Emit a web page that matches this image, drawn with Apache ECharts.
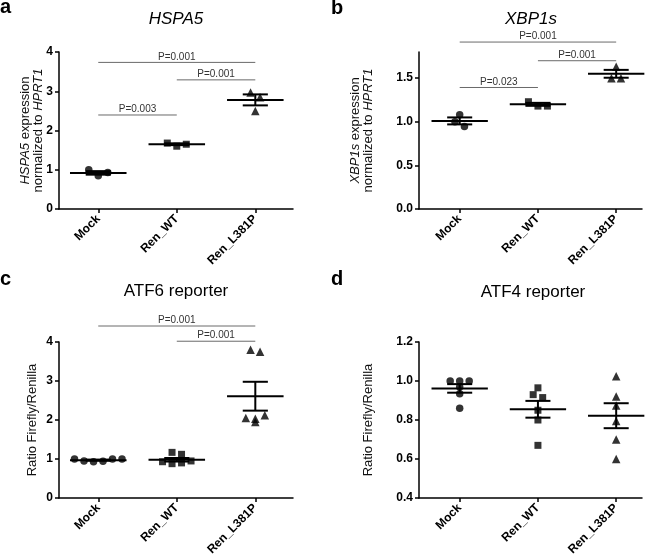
<!DOCTYPE html>
<html><head><meta charset="utf-8">
<script src="https://cdn.jsdelivr.net/npm/echarts@6/dist/echarts.min.js"></script>
<style>html,body{margin:0;padding:0;background:#fff}#c{width:656px;height:559px}</style>
</head><body><div id="c"></div>
<script>
const categories = ['Mock', 'Ren_WT', 'Ren_L381P'];

// a: HSPA5
const hspa5Mock = [1.0, 0.85, 0.93];
const hspa5WT = [1.68, 1.60, 1.65];
const hspa5L381P = [2.97, 2.85, 2.50];
const hspa5Mean = [0.92, 1.65, 2.78];
const hspa5Sem = [0.045, 0.023, 0.14];
const hspa5Ticks = [0, 1, 2, 3, 4];
const hspa5PLabels = ['P=0.001', 'P=0.001', 'P=0.003'];
const hspa5PPairs = [[0, 2], [1, 2], [0, 1]];
const hspa5PLevels = [3.735, 3.29, 2.395];

// b: XBP1s
const xbp1Mock = [1.08, 1.0, 0.945];
const xbp1WT = [1.23, 1.18, 1.18];
const xbp1L381P = [1.50, 1.63, 1.50];
const xbp1Mean = [1.01, 1.20, 1.55];
const xbp1Sem = [0.04, 0.017, 0.045];
const xbp1Ticks = [0, 0.5, 1.0, 1.5];
const xbp1PLabels = ['P=0.001', 'P=0.001', 'P=0.023'];
const xbp1PPairs = [[0, 2], [1, 2], [0, 1]];
const xbp1PLevels = [1.914, 1.70, 1.393];

// c: ATF6 reporter
const atf6Mock = [1.0, 0.95, 0.93, 0.94, 1.0, 1.0];
const atf6WT = [0.93, 1.17, 0.88, 1.12, 0.90, 0.95];
const atf6L381P = [2.05, 3.8, 1.95, 3.75, 2.03, 2.12];
const atf6Mean = [0.97, 0.98, 2.61];
const atf6Sem = [0.015, 0.045, 0.37];
const atf6Ticks = [0, 1, 2, 3, 4];
const atf6PLabels = ['P=0.001', 'P=0.001'];
const atf6PPairs = [[0, 2], [1, 2]];
const atf6PLevels = [4.41, 4.02];

// d: ATF4 reporter
const atf4Mock = [1.0, 1.0, 1.0, 0.969, 0.935, 0.86];
const atf4WT = [0.965, 0.93, 0.915, 0.85, 0.80, 0.67];
const atf4L381P = [1.025, 0.92, 0.875, 0.795, 0.70, 0.60];
const atf4Mean = [0.962, 0.855, 0.822];
const atf4Sem = [0.022, 0.043, 0.064];
const atf4Ticks = [0.4, 0.6, 0.8, 1.0, 1.2];

const FONT = '"Liberation Sans", Arial, Helvetica, sans-serif';
const SYMBOLS = [['circle', 7.5], ['rect', 7], ['triangle', 8.5]];

const panels = [
  { groups: [hspa5Mock, hspa5WT, hspa5L381P], mean: hspa5Mean, sem: hspa5Sem, ticks: hspa5Ticks, ymax: 4, dec: 0,
    pl: hspa5PLabels, pp: hspa5PPairs, pv: hspa5PLevels,
    grid: { left: 59, top: 52, width: 234, height: 157 }, xmin: -0.5, xmax: 2.48,
    name: '{i|HSPA5} expression\nnormalized to {i|HPRT1}', nameGap: 14 },
  { groups: [xbp1Mock, xbp1WT, xbp1L381P], mean: xbp1Mean, sem: xbp1Sem, ticks: xbp1Ticks, ymax: 1.8, dec: 1,
    pl: xbp1PLabels, pp: xbp1PPairs, pv: xbp1PLevels,
    grid: { left: 419, top: 52, width: 223, height: 157 }, xmin: -0.52, xmax: 2.33,
    name: '{i|XBP1s} expression\nnormalized to {i|HPRT1}', nameGap: 44 },
  { groups: [atf6Mock, atf6WT, atf6L381P], mean: atf6Mean, sem: atf6Sem, ticks: atf6Ticks, ymax: 4, dec: 0,
    pl: atf6PLabels, pp: atf6PPairs, pv: atf6PLevels,
    grid: { left: 59, top: 342, width: 234, height: 156 }, xmin: -0.5, xmax: 2.48,
    name: 'Ratio Firefly/Renilla', nameGap: 20 },
  { groups: [atf4Mock, atf4WT, atf4L381P], mean: atf4Mean, sem: atf4Sem, ticks: atf4Ticks, ymax: 1.2, dec: 1,
    pl: [], pp: [], pv: [],
    grid: { left: 419, top: 342, width: 223, height: 156 }, xmin: -0.52, xmax: 2.33,
    name: 'Ratio Firefly/Renilla', nameGap: 44 }
];

// simple beeswarm: points close in y share a row and are spread horizontally (pixel offsets)
function swarm(values, pxPerY, R, S) {
  const idx = values.map((v, i) => i).sort((a, b) => values[b] - values[a]);
  const rows = []; let cur = null;
  idx.forEach(i => {
    if (cur && (values[cur.top] - values[i]) * pxPerY <= R) cur.members.push(i);
    else { cur = { top: i, members: [i] }; rows.push(cur); }
  });
  const offs = new Array(values.length).fill(0);
  rows.forEach(r => {
    r.members.sort((a, b) => a - b);
    const n = r.members.length;
    r.members.forEach((m, k) => { offs[m] = (k - (n - 1) / 2) * S; });
  });
  return offs;
}

function meanSemRender(params, api) {
  const x = api.value(0), m = api.value(1), s = api.value(2);
  const pm = api.coord([x, m]);
  const pL = api.coord([x - 0.36, m]), pR = api.coord([x + 0.36, m]);
  const pu = api.coord([x, m + s]), pd = api.coord([x, m - s]);
  const cw = api.coord([x + 0.16, m])[0] - pm[0];
  const st = { stroke: '#000', lineWidth: 2 };
  return { type: 'group', children: [
    { type: 'line', shape: { x1: pL[0], y1: pm[1], x2: pR[0], y2: pm[1] }, style: st },
    { type: 'line', shape: { x1: pm[0], y1: pu[1], x2: pm[0], y2: pd[1] }, style: st },
    { type: 'line', shape: { x1: pm[0] - cw, y1: pu[1], x2: pm[0] + cw, y2: pu[1] }, style: st },
    { type: 'line', shape: { x1: pm[0] - cw, y1: pd[1], x2: pm[0] + cw, y2: pd[1] }, style: st }
  ] };
}

function bracketRender(labels) {
  return function (params, api) {
    const y = api.value(2);
    const a = api.coord([api.value(0), y]), b = api.coord([api.value(1), y]);
    return { type: 'group', children: [
      { type: 'line', shape: { x1: a[0], y1: a[1], x2: b[0], y2: b[1] }, style: { stroke: '#6a6a6a', lineWidth: 1 } },
      { type: 'text', x: (a[0] + b[0]) / 2, y: a[1] - 0.5,
        style: { text: labels[params.dataIndex], font: '10px ' + FONT, fill: '#333', align: 'center', verticalAlign: 'bottom' } }
    ] };
  };
}

const grids = [], xAxes = [], yAxes = [], series = [];
const axisLineStyle = { color: '#000', width: 1.5 };
panels.forEach((p, i) => {
  grids.push(Object.assign({ containLabel: false, outerBoundsMode: 'none' }, p.grid));
  const ymin = p.ticks[0];
  xAxes.push({
    gridIndex: i, type: 'value', min: p.xmin, max: p.xmax,
    axisLine: { show: true, onZero: false, lineStyle: axisLineStyle },
    axisTick: { show: true, customValues: [0, 1, 2], length: 4, lineStyle: axisLineStyle },
    axisLabel: { customValues: [0, 1, 2], rotate: 45, margin: 8, formatter: v => categories[Math.round(v)] || '',
      fontFamily: FONT, fontWeight: 'bold', fontSize: 12, color: '#000' },
    splitLine: { show: false }
  });
  yAxes.push({
    gridIndex: i, type: 'value', min: ymin, max: p.ymax,
    axisLine: { show: true, onZero: false, lineStyle: axisLineStyle },
    axisTick: { show: true, customValues: p.ticks, length: 4, lineStyle: axisLineStyle },
    axisLabel: { customValues: p.ticks, margin: 6, formatter: v => Number(v).toFixed(p.dec),
      fontFamily: FONT, fontWeight: 'bold', fontSize: 12, color: '#000' },
    splitLine: { show: false },
    name: p.name, nameLocation: 'middle', nameGap: p.nameGap, nameMoveOverlap: false,
    nameTextStyle: { fontFamily: FONT, fontSize: 13, color: '#111', lineHeight: 13,
      rich: { i: { fontFamily: FONT, fontSize: 13, fontStyle: 'italic', color: '#111', lineHeight: 13 } } }
  });
  const pxPerY = p.grid.height / (p.ymax - ymin);
  const pxPerX = p.grid.width / (p.xmax - p.xmin);
  p.groups.forEach((vals, g) => {
    const offs = swarm(vals, pxPerY, 6, 9.5);
    series.push({
      type: 'scatter', xAxisIndex: i, yAxisIndex: i,
      symbol: SYMBOLS[g][0], symbolSize: SYMBOLS[g][1],
      itemStyle: { color: '#000' },
      data: vals.map((v, k) => [g + offs[k] / pxPerX, v]), z: 3
    });
  });
  series.push({
    type: 'custom', xAxisIndex: i, yAxisIndex: i, renderItem: meanSemRender, clip: false,
    encode: { x: 0, y: 1 }, z: 4,
    data: p.mean.map((m, g) => [g, m, p.sem[g]])
  });
  if (p.pl.length) {
    series.push({
      type: 'custom', xAxisIndex: i, yAxisIndex: i, renderItem: bracketRender(p.pl), clip: false,
      encode: { x: [0, 1], y: 2 }, z: 2,
      data: p.pp.map((pr, k) => [pr[0], pr[1], p.pv[k]])
    });
  }
});

const txt = (t, x, y, font) => ({ type: 'text', x: x, y: y,
  style: { text: t, font: font, fill: '#000', align: 'center', verticalAlign: 'middle' } });
const letter = (t, x, y) => ({ type: 'text', x: x, y: y,
  style: { text: t, font: 'bold 20px ' + FONT, fill: '#000', align: 'left', verticalAlign: 'middle' } });

const chart = echarts.init(document.getElementById('c'), null, { renderer: 'canvas' });
chart.setOption({
  animation: false,
  backgroundColor: '#fff',
  grid: grids, xAxis: xAxes, yAxis: yAxes, series: series,
  graphic: [
    letter('a', 0, 7), letter('b', 331, 8), letter('c', 0, 279), letter('d', 331, 279),
    txt('HSPA5', 176, 19, 'italic 17px ' + FONT),
    txt('XBP1s', 531, 19, 'italic 17px ' + FONT),
    txt('ATF6 reporter', 176, 291, '17px ' + FONT),
    txt('ATF4 reporter', 533, 292, '17px ' + FONT)
  ]
});
</script></body></html>
